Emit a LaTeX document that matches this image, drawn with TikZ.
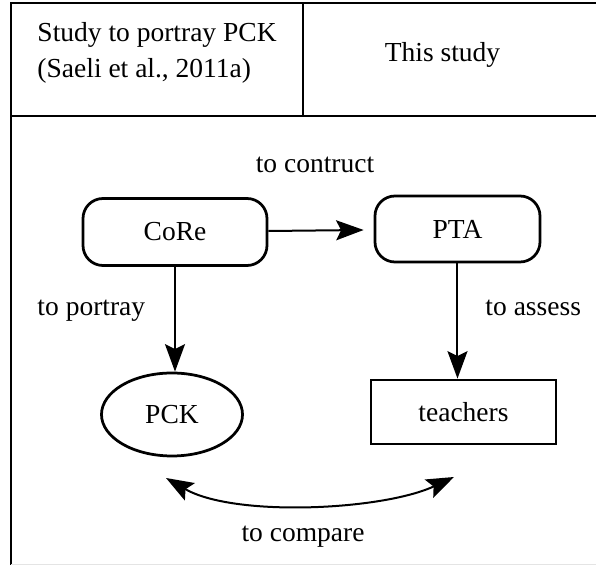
\documentclass[tikz,border=0pt]{standalone}
\usepackage{fontspec}
\setmainfont{Liberation Serif}
\usepackage{xcolor}
\usepackage{tikz}
\usetikzlibrary{arrows.meta,shapes.geometric}
\definecolor{ink}{HTML}{000000}
\definecolor{faint}{HTML}{E4E4E4}
\tikzset{
  hd/.tip={Stealth[length=11pt,width=8pt,inset=2pt]},
  frame/.style={draw=ink, line width=1pt},
  rule/.style={draw=ink, line width=0.8pt},
  txt/.style={text=ink, font=\fontsize{11}{14.6}\selectfont},
  rbox/.style={txt, draw=ink, line width=1.1pt, rounded corners=8pt, inner sep=0pt},
  sbox/.style={txt, draw=ink, line width=1.1pt, inner sep=0pt},
  oval/.style={txt, ellipse, draw=ink, line width=1.1pt, inner sep=0pt},
  link/.style={draw=ink, line width=0.8pt, -hd},
  both/.style={draw=ink, line width=0.8pt, hd-hd},
  lab/.style={txt, inner sep=0pt},
}

\begin{document}
\begin{tikzpicture}[x=0.4pt,y=-0.4pt]
  \useasboundingbox (0,0) rectangle (596,565);
  \draw[frame] (596,3) -- (11,3) -- (11,565);
  \draw[draw=faint, line width=0.6pt] (11,564.5) -- (596,564.5);
  \draw[rule] (11,116) -- (596,116);
  \draw[rule] (303,3) -- (303,116);
  \node[lab, align=left, anchor=west] (prior) at (37,53) {Study to portray PCK\\(Saeli et al., 2011a)};
  \node[lab, anchor=base] (this) at (442.5,61.5) {This study};
  \node[rbox, minimum width=73.6pt, minimum height=26.8pt] (core) at (175,232) {CoRe};
  \node[rbox, minimum width=66pt, minimum height=26.4pt] (pta) at (457.5,229) {PTA};
  \node[oval, minimum width=56.4pt, minimum height=33.2pt] (pck) at (172,414.5) {PCK};
  \node[sbox, minimum width=74pt, minimum height=25.6pt] (teach) at (463.5,412) {teachers};
  \draw[link, shorten >=4pt] (core) -- (pta);
  \draw[link] (core.south) -- (core.south |- pck.north);
  \draw[link] (pta.south) -- (pta.south |- teach.north);
  \node[lab, anchor=base] (construct) at (315,173) {to contruct};
  \node[lab, anchor=base west] (portray) at (37,316) {to portray};
  \node[lab, anchor=base west] (assess) at (485,316) {to assess};
  \coordinate (cmpL) at (166,478);
  \coordinate (cmpR) at (454,477);
  \draw[both] (cmpL) to[out=-30, in=205, looseness=0.7] (cmpR);
  \node[lab, anchor=base] (compare) at (303,541.5) {to compare};
\end{tikzpicture}
\end{document}
